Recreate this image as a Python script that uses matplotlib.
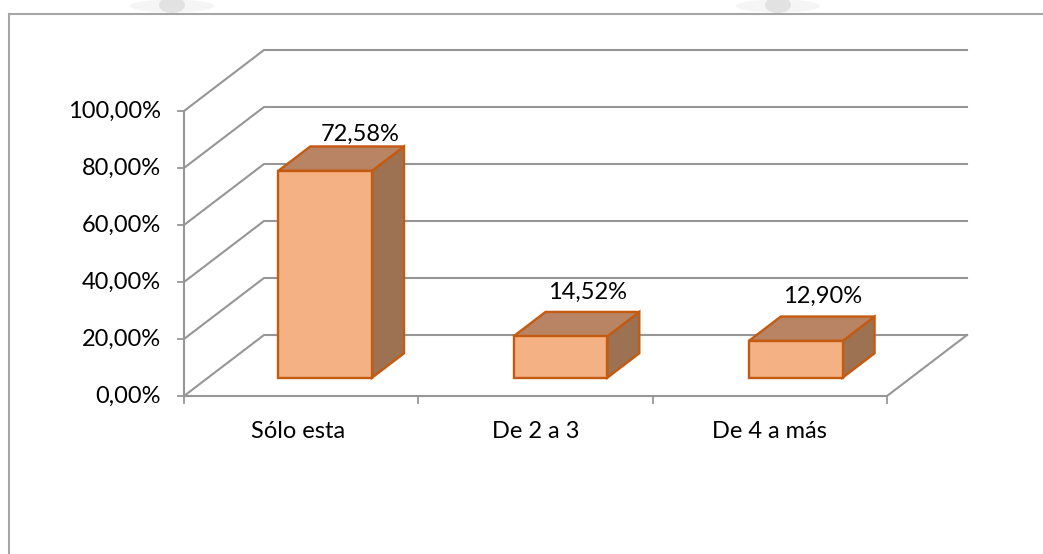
import matplotlib
matplotlib.use("Agg")
import matplotlib.pyplot as plt
from matplotlib.lines import Line2D
from matplotlib.patches import Ellipse, Polygon

categorias = ["Sólo esta", "De 2 a 3", "De 4 a más"]
valores = [72.58, 14.52, 12.90]
etiquetas = ["72,58%", "14,52%", "12,90%"]
ticks_y = [0, 20, 40, 60, 80, 100]
ticks_y_txt = ["0,00%", "20,00%", "40,00%", "60,00%", "80,00%", "100,00%"]

W, H = 1043, 554
GRIS = "#969696"
BORDE = "#C55A11"
LETRA = 17

plt.rcParams["font.family"] = ["Lato", "DejaVu Sans"]

fig = plt.figure(figsize=(W / 100, H / 100), dpi=100)
fig.patch.set_facecolor("white")

# restos de la marca de agua arriba del marco
for cx in (172, 778):
    fig.add_artist(Ellipse((cx / W, 1 - 6 / H), 84 / W, 13 / H, transform=fig.transFigure,
                           facecolor="#F5F5F5", edgecolor="none", zorder=1))
    fig.add_artist(Ellipse((cx / W, 1 - 5 / H), 26 / W, 16 / H, transform=fig.transFigure,
                           facecolor="#E2E2E2", edgecolor="none", zorder=1))

# marco exterior: solo arriba y a la izquierda
fig.add_artist(Line2D([9 / W, 9 / W, 1], [0, 1 - 14 / H, 1 - 14 / H], transform=fig.transFigure,
                      color="#A6A6A6", lw=1.5, solid_joinstyle="miter", zorder=2))

# plano frontal del grafico en pixeles: x 184-887, y 111-396
ax = fig.add_axes([184 / W, 1 - 396 / H, (887 - 184) / W, (396 - 111) / H])
ax.set_xlim(0, 3)
ax.set_ylim(0, 100)
ax.axis("off")

# desplazamiento de la profundidad en unidades de datos
DX = 80 / (703 / 3)
DY = 61 / 2.85


def proy(x, y, t):
    return x + DX * t, y + DY * t


# paredes
for v, txt in zip(ticks_y, ticks_y_txt):
    x0, y0 = proy(0, v, 0)
    x1, y1 = proy(0, v, 1)
    x2, y2 = proy(3, v, 1)
    ax.plot([x0, x1, x2], [y0, y1, y2], color=GRIS, lw=1.5, clip_on=False, solid_joinstyle="miter")
    ax.plot([x0 - 0.027, x0], [y0, y0], color=GRIS, lw=1.3, clip_on=False)
    ax.text(x0 - 0.1, y0, txt, ha="right", va="center", fontsize=LETRA, color="black")

x0, y0 = proy(3, 0, 0)
x1, y1 = proy(3, 0, 1)
ax.plot([x0, x1], [y0, y1], color=GRIS, lw=1.5, clip_on=False)
ax.plot([0, 0], [0, 100], color=GRIS, lw=1.5, clip_on=False)
ax.plot([0, 3], [0, 0], color=GRIS, lw=1.5, clip_on=False)
for i in range(4):
    ax.plot([i, i], [0, -2.3], color=GRIS, lw=1.3, clip_on=False)

# barras
ANCHO = 0.40
T0, T1 = 0.3, 0.7
sube = [4.4, 7.0, 7.0]  # la primera etiqueta queda mas pegada a la barra
corre = [0.013, -0.02, -0.02]
for i, v in enumerate(valores):
    xc = i + 0.5 + 0.004 * i
    xa = xc - ANCHO / 2
    xb = xc + ANCHO / 2
    frente = [proy(xa, 0, T0), proy(xb, 0, T0), proy(xb, v, T0), proy(xa, v, T0)]
    arriba = [proy(xa, v, T0), proy(xb, v, T0), proy(xb, v, T1), proy(xa, v, T1)]
    lado = [proy(xb, 0, T0), proy(xb, 0, T1), proy(xb, v, T1), proy(xb, v, T0)]
    for pts, color in ((lado, "#9C7252"), (arriba, "#B98463"), (frente, "#F4B183")):
        ax.add_patch(Polygon(pts, closed=True, facecolor=color, edgecolor=BORDE, linewidth=1.7,
                             joinstyle="miter", clip_on=False, zorder=3))
    xt, yt = proy(xc, v, T1)
    ax.text(xt + corre[i], yt + sube[i], etiquetas[i], ha="center", va="center", fontsize=LETRA,
            color="black", zorder=4)
    ax.text(i + 0.5 - 0.012 * (i == 0), -12.5, categorias[i], ha="center", va="center", fontsize=LETRA,
            color="black")

fig.savefig("out.png", dpi=100)
